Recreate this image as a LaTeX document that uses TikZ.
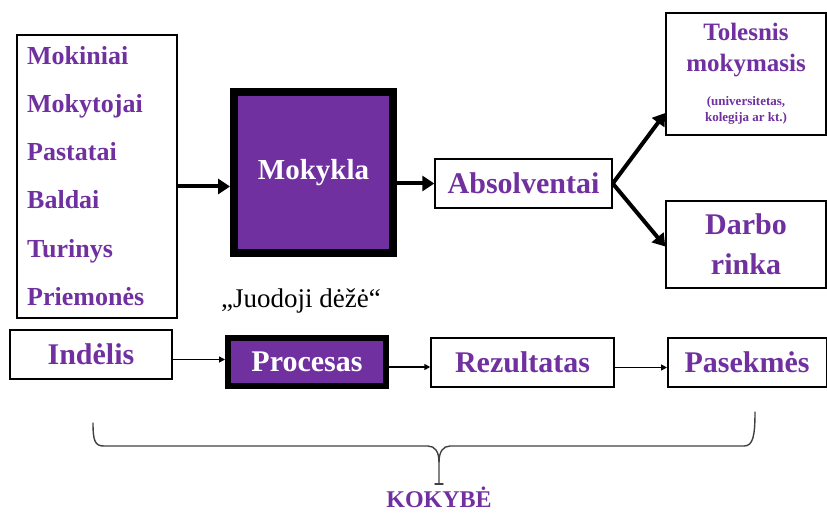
\documentclass[tikz,border=0pt]{standalone}
\usepackage{fontspec}
\setmainfont{Liberation Serif}
\usetikzlibrary{arrows.meta}

\definecolor{schoolpurple}{HTML}{7030A0}

\begin{document}
\begin{tikzpicture}[x=1pt, y=-1pt]

\useasboundingbox (0,0) rectangle (827,513);

\tikzset{
	box/.style = {draw, line width=1.5pt, inner sep=0pt, align=center, text=schoolpurple, font=\bfseries\fontsize{30}{36}\selectfont},
	blackbox/.style = {draw=black, fill=schoolpurple, inner sep=0pt, text=white, font=\bfseries\fontsize{30}{36}\selectfont},
	listitem/.style = {inner sep=0pt, text=schoolpurple, font=\bfseries\fontsize{26}{30}\selectfont},
	bigarrow/.style = {line width=4pt, -{Triangle[length=12pt, width=15pt]}},
	smallarrow/.style = {line width=1.5pt, -{Triangle[length=6pt, width=6pt]}},
	braceline/.style = {line width=1.4pt, draw=black!75, line cap=round}
}

% inputs of the school
\node[box, minimum width=160pt, minimum height=283pt] (inputs) at (97, 176.5) {};
\foreach \item [count=\i] in {Mokiniai, Mokytojai, Pastatai, Baldai, Turinys, Priemonės}
{
	\node[listitem, anchor=base west] (item\i) at (27, {65 + 48 * (\i - 1)}) {\item};
}

\node[blackbox, line width=8pt, minimum width=159pt, minimum height=161pt,
	font=\bfseries\fontsize{29}{34}\selectfont] (school) at (313.5, 172.5) {Mokykla};
\node[inner sep=0pt, anchor=base, font=\fontsize{27}{30}\selectfont] (blackboxlabel) at (301, 307) {„Juodoji dėžė“};

\node[box, minimum width=177pt, minimum height=49pt] (graduates) at (523.5, 183.5) {Absolventai};
\node[box, minimum width=160pt, minimum height=122pt, font=\bfseries\fontsize{25}{31}\selectfont] (study) at (746, 74)
	{Tolesnis\\mokymasis\\[3pt]\fontsize{13}{16}\selectfont (universitetas,\\[-15pt]\fontsize{13}{16}\selectfont kolegija ar kt.)};
\node[box, minimum width=160pt, minimum height=87pt, font=\bfseries\fontsize{30}{40}\selectfont] (labour) at (746, 244.5) {Darbo\\rinka};

\draw[bigarrow] ([yshift=-10pt]inputs.east) -- ([yshift=-10pt]inputs.east -| school.west);
\draw[bigarrow] (school.east |- graduates) -- (graduates.west);
\draw[bigarrow] (graduates.east) -- ([yshift=-39pt]study.west);
\draw[bigarrow] (graduates.east) -- ([yshift=-2pt]labour.west);

% the chain below
\node[box, minimum width=162pt, minimum height=49pt] (input) at (91, 354.5) {Indėlis};
\node[blackbox, line width=6pt, minimum width=158pt, minimum height=48pt] (process) at (307, 362) {Procesas};
\node[box, minimum width=183pt, minimum height=49pt] (result) at (522.5, 362.5) {Rezultatas};
\node[box, minimum width=158.5pt, minimum height=49pt] (outcome) at (747, 362.5) {Pasekmės};

\draw[smallarrow] ([yshift=-5pt]input.east) -- ([yshift=-5pt]input.east -| process.west);
\draw[smallarrow] ([yshift=-5pt]process.east) -- ([yshift=-5pt]process.east -| result.west);
\draw[smallarrow] ([yshift=-5pt]result.east) -- ([yshift=-5pt]result.east -| outcome.west);

% brace
\coordinate (braceleft) at (93, 423);
\coordinate (braceright) at (755, 412);
\coordinate (bracetip) at (439, 484);
\draw[braceline] (braceleft) .. controls (93, 441) and (95, 446) .. (104, 446) -- (428, 446)
	.. controls (435, 446) and (439, 452) .. (439, 462) -- (bracetip);
\draw[braceline] (braceright) .. controls (755, 436) and (753, 446) .. (744, 446) -- (450, 446)
	.. controls (443, 446) and (439, 452) .. (439, 462);
\draw[braceline] ([xshift=-4pt]bracetip) -- ([xshift=4pt]bracetip);

\node[inner sep=0pt, anchor=base, text=schoolpurple, font=\bfseries\fontsize{24}{30}\selectfont] (quality) at (439, 507) {KOKYBĖ};

\end{tikzpicture}
\end{document}
